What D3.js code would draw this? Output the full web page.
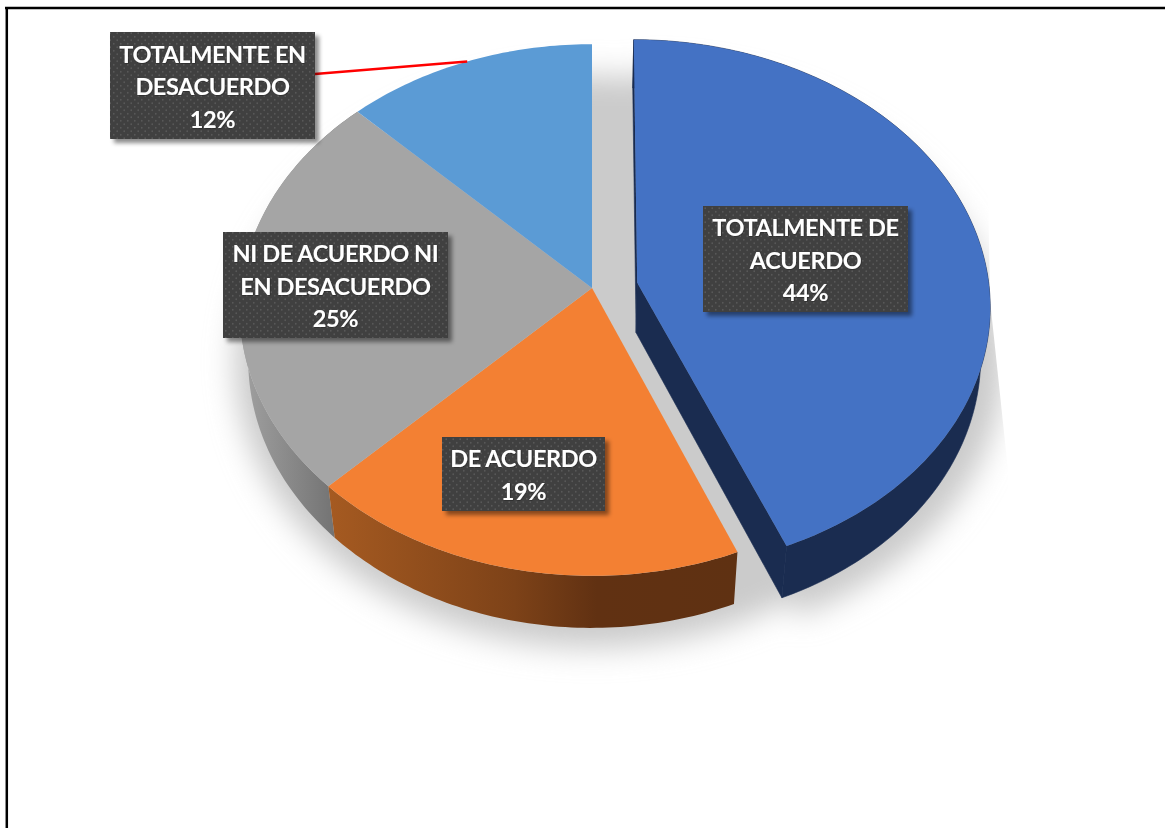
<!DOCTYPE html>
<html lang="en">
<head>
<meta charset="UTF-8">
<title>Pie</title>
<script src="https://d3js.org/d3.v7.min.js"></script>
<style>
  html, body { margin: 0; padding: 0; background: #fff; }
  svg { display: block; }
  .label text { font-family: Lato, "Open Sans", sans-serif; font-weight: 700; font-size: 23.5px; letter-spacing: -0.4px; fill: #fff; text-anchor: middle; }
</style>
</head>
<body>
<svg id="chart" width="1165" height="828"></svg>
<script>
// data (labels are rounded, slices are a bit more exact)
var categories = ["TOTALMENTE DE ACUERDO", "DE ACUERDO", "NI DE ACUERDO NI EN DESACUERDO", "TOTALMENTE EN DESACUERDO"];
var values = [43.75, 18.75, 25, 12.5];
var percents = ["44%", "19%", "25%", "12%"];
var labelLines = [["TOTALMENTE DE", "ACUERDO"], ["DE ACUERDO"], ["NI DE ACUERDO NI", "EN DESACUERDO"], ["TOTALMENTE EN", "DESACUERDO"]];

var topColors = ["#4472c4", "#f38033", "#a5a5a5", "#5b9bd5"];

// box of each label: left, top, right, bottom
var boxes = [[703, 206, 908, 312], [442, 437, 605, 511], [223, 232, 448, 338], [110, 32, 315, 139]];

var config = {
  cx: 592, cy: 288, rx: 351, ry: 264,
  tilt: 0.0828,          // perspective of the disc
  depth: 50,
  lowerScale: 0.976,
  explode: {du: 0.129, dv: -0.02, scaleU: 1.003}  // first slice is pulled out
};

var svg = d3.select("#chart");
var defs = svg.append("defs");

// dark dotted label background
var pat = defs.append("pattern").attr("id", "dots").attr("patternUnits", "userSpaceOnUse")
  .attr("width", 7).attr("height", 7);
pat.append("rect").attr("width", 7).attr("height", 7).attr("fill", "#3f3f3f");
pat.append("circle").attr("cx", 1.75).attr("cy", 1.75).attr("r", 0.9).attr("fill", "#585858");
pat.append("circle").attr("cx", 5.25).attr("cy", 5.25).attr("r", 0.9).attr("fill", "#585858");

var blur = defs.append("filter").attr("id", "blur").attr("x", "-20%").attr("y", "-20%").attr("width", "140%").attr("height", "140%");
blur.append("feGaussianBlur").attr("stdDeviation", 14);

var drop = defs.append("filter").attr("id", "drop").attr("x", "-10%").attr("y", "-10%").attr("width", "125%").attr("height", "130%");
drop.append("feDropShadow").attr("dx", 4).attr("dy", 4).attr("stdDeviation", 2).attr("flood-color", "#000").attr("flood-opacity", 0.45);

var textShadow = defs.append("filter").attr("id", "tshadow");
textShadow.append("feDropShadow").attr("dx", 0.5).attr("dy", 0.5).attr("stdDeviation", 0.6).attr("flood-color", "#000").attr("flood-opacity", 0.5);

function gradient(id, stops, x1, x2) {
  var g = defs.append("linearGradient").attr("id", id).attr("gradientUnits", "userSpaceOnUse")
    .attr("x1", x1).attr("x2", x2).attr("y1", 0).attr("y2", 0);
  stops.forEach(function(s) { g.append("stop").attr("offset", s[0]).attr("stop-color", s[1]); });
}
gradient("wallGray", [[0, "#a0a0a0"], [1, "#737373"]], 243, 335);
gradient("wallOrange", [[0, "#a55a21"], [0.45, "#7d4218"], [0.65, "#613112"], [1, "#5f3112"]], 330, 740);

// angle (clockwise from the top) on the disc -> point on the screen
function project(a, r, ex) {
  var u = Math.sin(a) * r * (ex ? ex.scaleU : 1) + (ex ? ex.du : 0),
      v = -Math.cos(a) * r + (ex ? ex.dv : 0),
      d = 1 - config.tilt * v;
  return [config.cx + config.rx * u / d, config.cy + config.ry * v / d];
}

// same point on the bottom of the pie
function lower(p) {
  return [config.cx + (p[0] - config.cx) * config.lowerScale,
          p[1] + config.depth + (p[1] - 283) * 0.007];
}

function arcPoints(a0, a1, ex) {
  var n = Math.max(2, Math.ceil(Math.abs(a1 - a0) * 60));
  return d3.range(n + 1).map(function(i) { return project(a0 + (a1 - a0) * i / n, 1, ex); });
}

var line = d3.line().curve(d3.curveLinear);
var slices = d3.pie().sort(null).value(function(d) { return d; })(values);

function slicePath(d, i, low) {
  var ex = i == 0 ? config.explode : null;
  var pts = [project(0, 0, ex)].concat(arcPoints(d.startAngle, d.endAngle, ex));
  return line(low ? pts.map(lower) : pts) + "Z";
}

function wallPath(d, i) {
  var ex = i == 0 ? config.explode : null;
  var pts = arcPoints(d.startAngle, d.endAngle, ex);
  return line(pts.concat(pts.slice().reverse().map(lower))) + "Z";
}

function cutPath(a, ex) {
  var pts = [project(0, 0, ex), project(a, 1, ex)];
  return line(pts.concat(pts.slice().reverse().map(lower))) + "Z";
}

// frame of the picture, only top and left show
svg.append("line").attr("x1", 5).attr("x2", 1165).attr("y1", 8).attr("y2", 8).attr("stroke", "#000").attr("stroke-width", 2.5);
svg.append("line").attr("x1", 6.8).attr("x2", 6.8).attr("y1", 7).attr("y2", 828).attr("stroke", "#000").attr("stroke-width", 2.5);

// soft shadow under the pie
defs.append("clipPath").attr("id", "shadowClip").append("path")
  .attr("d", line([[0, 0], [985, 0], [990, 300], [1008, 470], [1012, 828], [0, 828]]) + "Z");
var shadow = svg.append("g").attr("clip-path", "url(#shadowClip)")
  .append("g").attr("filter", "url(#blur)").attr("fill", "#cbcbcb")
  .attr("transform", "translate(592,340) scale(1.04,1.07) translate(-592,-340)");
shadow.append("path").attr("d", line(arcPoints(0, 2 * Math.PI, null).map(lower)) + "Z");
shadow.selectAll(".s").data([slices[0]]).enter().append("path")
  .attr("transform", "translate(8,0)")
  .attr("d", function(d) { return slicePath(d, 0, true); });

// side walls, back to front
svg.append("path").attr("d", wallPath(slices[2], 2)).attr("fill", "url(#wallGray)");
svg.append("path").attr("d", wallPath(slices[1], 1)).attr("fill", "url(#wallOrange)");
var navy = "#1a2c50";
// thin stroke closes the seam between the cut face and the outer wall
[cutPath(slices[0].startAngle, config.explode), cutPath(slices[0].endAngle, config.explode), wallPath(slices[0], 0)].forEach(function(p) {
  svg.append("path").attr("d", p).attr("fill", navy).attr("stroke", navy).attr("stroke-width", 0.6);
});

// top faces
svg.selectAll(".slice").data(slices).enter().append("path")
  .attr("class", "slice")
  .attr("d", function(d, i) { return slicePath(d, i, false); })
  .attr("fill", function(d, i) { return topColors[i]; });

// leader line of the small slice
svg.append("path").attr("d", line([[boxes[3][2], 74], project(slices[3].startAngle + (slices[3].endAngle - slices[3].startAngle) * 0.5, 1, null)]))
  .attr("stroke", "#f00").attr("stroke-width", 2.5).attr("fill", "none");

// labels
var lineHeight = 32.5;
var label = svg.selectAll(".label").data(categories).enter().append("g").attr("class", "label");
label.append("rect")
  .attr("x", function(d, i) { return boxes[i][0]; })
  .attr("y", function(d, i) { return boxes[i][1]; })
  .attr("width", function(d, i) { return boxes[i][2] - boxes[i][0]; })
  .attr("height", function(d, i) { return boxes[i][3] - boxes[i][1]; })
  .attr("fill", "url(#dots)")
  .attr("filter", "url(#drop)");
label.each(function(d, i) {
  var lines = labelLines[i].concat(percents[i]);
  var mid = (boxes[i][0] + boxes[i][2]) / 2;
  var y0 = (boxes[i][1] + boxes[i][3]) / 2 - (lines.length - 1) * lineHeight / 2 + 9.5;
  d3.select(this).selectAll("text").data(lines).enter().append("text")
    .attr("x", mid)
    .attr("y", function(t, j) { return y0 + j * lineHeight; })
    .attr("filter", "url(#tshadow)")
    .text(function(t) { return t; });
});
</script>
</body>
</html>
